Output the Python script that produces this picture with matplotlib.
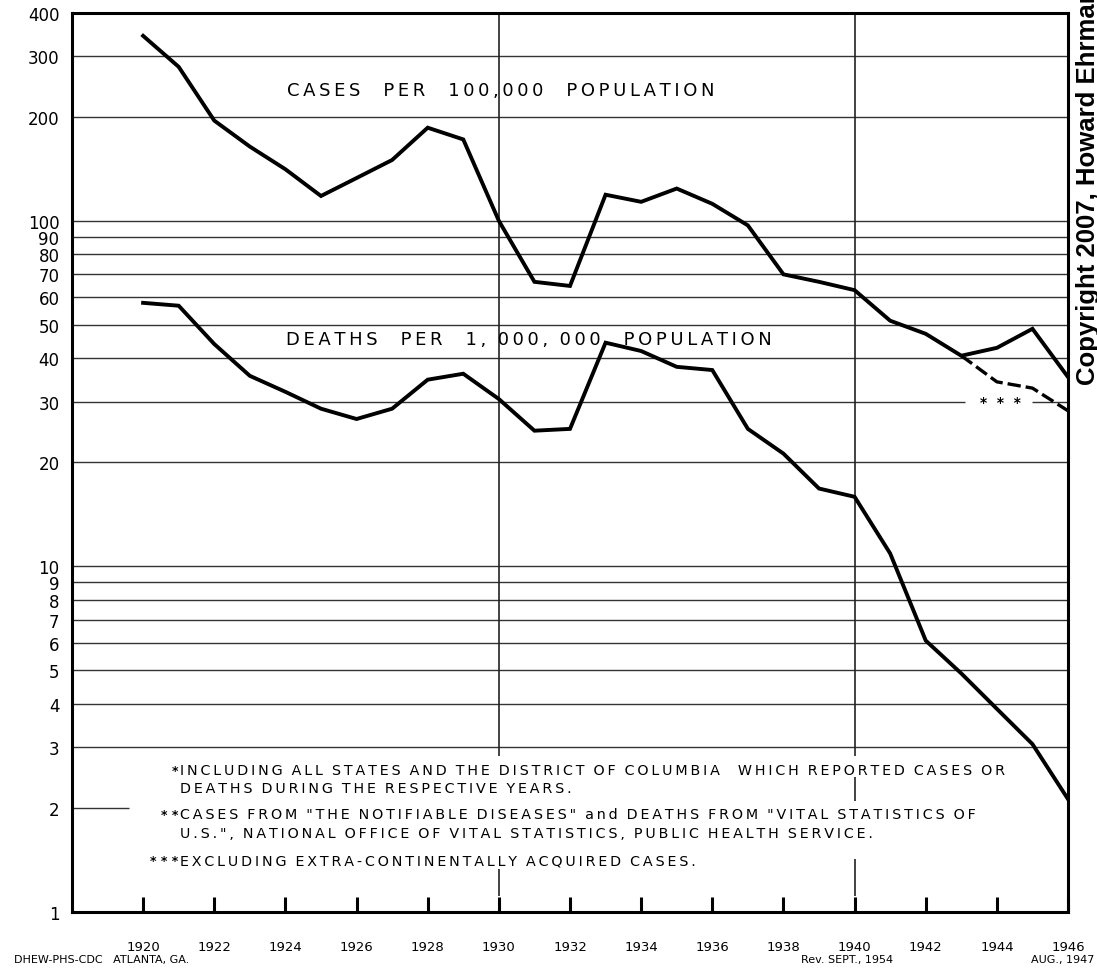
import matplotlib
matplotlib.use("Agg")
import matplotlib.pyplot as plt
from matplotlib.ticker import FixedLocator, NullLocator

# data
years = list(range(1920, 1947))
cases = [343, 279, 195, 164, 141, 118, 133, 150, 186, 172, 100, 66.6, 64.8,
         119, 113.5, 124, 112, 97, 70, 66.6, 63, 51.4, 47.1, 40.7, 42.9, 48.7, 35.3]
cases_excl_years = [1943, 1944, 1945, 1946]
cases_excl = [40.7, 34.2, 32.8, 28.2]
deaths = [57.9, 56.8, 44, 35.6, 32, 28.6, 26.7, 28.6, 34.7, 36.1, 30.5, 24.7, 25,
          44.4, 42, 37.8, 37, 25, 21.2, 16.8, 15.9, 10.9, 6.1, 4.9, 3.87, 3.06, 2.12]

y_ticks = [1, 2, 3, 4, 5, 6, 7, 8, 9, 10, 20, 30, 40, 50, 60, 70, 80, 90, 100, 200, 300, 400]
x_ticks = list(range(1920, 1947, 2))
full_grid = [3, 4, 5, 6, 7, 8, 9, 10, 20, 40, 50, 60, 70, 80, 90, 100, 200, 300]

footnotes = [
    ("*", "INCLUDING ALL STATES AND THE DISTRICT OF COLUMBIA  WHICH REPORTED CASES OR"),
    ("", "DEATHS DURING THE RESPECTIVE YEARS."),
    ("**", "CASES FROM \"THE NOTIFIABLE DISEASES\" and DEATHS FROM \"VITAL STATISTICS OF"),
    ("", "U.S.\", NATIONAL OFFICE OF VITAL STATISTICS, PUBLIC HEALTH SERVICE."),
    ("***", "EXCLUDING EXTRA-CONTINENTALLY ACQUIRED CASES."),
]
footnote_y = [2.57, 2.28, 1.92, 1.69, 1.405]


def track(s, gap="\u2009", word_gap=" "):
    # the old lettering is widely spaced, so pad letters with thin spaces
    return (word_gap + " ").join(gap.join(w) for w in s.split(" "))


fig = plt.figure(figsize=(10.97, 9.70), dpi=100)
ax = fig.add_axes([0.0656, 0.0588, 0.908, 0.927])
ax.set_yscale("log")
ax.set_xlim(1918, 1946)
ax.set_ylim(1, 400)

# grid lines
ax.hlines(full_grid, 1918, 1946, color="#333333", lw=1.0, zorder=1)
ax.hlines([30], 1918, 1943.1, color="#333333", lw=1.0, zorder=1)
ax.hlines([30], 1945.0, 1946, color="#333333", lw=1.0, zorder=1)
ax.hlines([2], 1918, 1919.6, color="#333333", lw=1.0, zorder=1)
ax.vlines([1930, 1940], 2.83, 400, color="#222222", lw=1.2, zorder=1)
ax.vlines([1930], 1.11, 1.33, color="#222222", lw=1.2, zorder=1)
ax.vlines([1940, 1940], [2.10, 1.11], [2.46, 1.42], color="#222222", lw=1.2, zorder=1)

# series
ax.plot(years, cases, color="black", lw=2.8, solid_joinstyle="miter", zorder=3)
ax.plot(years, deaths, color="black", lw=2.8, solid_joinstyle="miter", zorder=3)
ax.plot(cases_excl_years, cases_excl, color="black", lw=2.4, ls=(0, (4, 1.5)), zorder=3)

# axes styling
for side in ["left", "bottom", "right", "top"]:
    ax.spines[side].set_linewidth(2.2)
ax.yaxis.set_major_locator(FixedLocator(y_ticks))
ax.yaxis.set_minor_locator(NullLocator())
ax.set_yticklabels([str(v) for v in y_ticks])
ax.tick_params(axis="y", length=0, pad=9, labelsize=12)
ax.xaxis.set_major_locator(FixedLocator(x_ticks))
ax.set_xticklabels([str(v) for v in x_ticks])
ax.tick_params(axis="x", direction="in", length=11, width=2.2, pad=20, labelsize=9.5)

# labels inside the plot
ax.text(1930.06, 239, track("CASES  PER  100,000  POPULATION"), ha="center", va="center",
        fontsize=13)
ax.text(1930.84, 45.5, track("DEATHS  PER  1, 000, 000  POPULATION"), ha="center",
        va="center", fontsize=13)
ax.text(1944.1, 29.9, "*  *  *", ha="center", va="center", fontsize=10, fontweight="bold")

for (stars, line), yv in zip(footnotes, footnote_y):
    if stars:
        ax.text(1921.0, yv, " ".join(stars), ha="right", va="center", fontsize=9,
                fontweight="bold")
    ax.text(1921.05, yv, track(line), ha="left", va="center", fontsize=10.3)

# figure texts
fig.text(0.013, 0.005, "DHEW-PHS-CDC   ATLANTA, GA.", ha="left", va="bottom", fontsize=8)
fig.text(0.73, 0.005, "Rev. SEPT., 1954", ha="left", va="bottom", fontsize=8)
fig.text(0.998, 0.005, "AUG., 1947", ha="right", va="bottom", fontsize=8)
fig.text(0.992, 1 - 385 / 970, "Copyright 2007, Howard Ehrman", rotation=90,
         ha="center", va="bottom", fontsize=18.5, fontweight="bold",
         family="Liberation Sans")

fig.savefig("out.png", dpi=100)
